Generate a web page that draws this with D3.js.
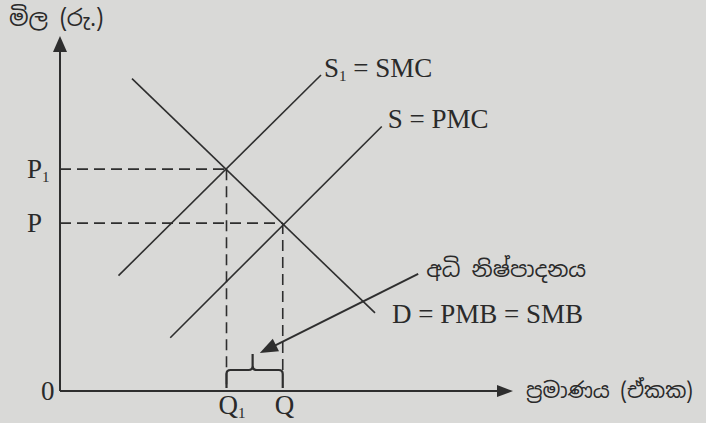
<!DOCTYPE html>
<html>
<head>
<meta charset="utf-8">
<script src="https://cdn.jsdelivr.net/npm/d3@7"></script>
<style>
  html, body { margin: 0; padding: 0; background: #d9d9d7; }
  svg { display: block; }
  text { fill: #2a2a2a; }
</style>
</head>
<body>
<div id="chart"></div>
<script>
// chart size
const width = 706;
const height = 423;

// curve end points (quantity, price) in chart units 0..100
const demandLine = [[16, 88], [70, 22]];     // D = PMB = SMB
const smcLine = [[13, 32.5], [58, 89]];      // S1 = SMC
const pmcLine = [[24.5, 15], [71.5, 74.5]];  // S = PMC

// equilibrium points
const quantities = [37, 49.5];   // Q1, Q
const prices = [62.5, 47.3];     // P1, P
const qLabels = ["Q", "Q"];
const qSubs = ["1", ""];
const pLabels = ["P", "P"];
const pSubs = ["1", ""];

// over production pointer
const pointer = [[79.6, 33], [44.4, 10.7]];

const svg = d3.select("#chart")
  .append("svg")
  .attr("width", width)
  .attr("height", height);

svg.append("rect")
  .attr("width", width)
  .attr("height", height)
  .attr("fill", "#d9d9d7");

// scales
const x = d3.scaleLinear().domain([0, 100]).range([60, 510]);
const y = d3.scaleLinear().domain([0, 100]).range([391, 36]);

const ink = "#2e2e2e";
const line = d3.line().x(d => x(d[0])).y(d => y(d[1]));

// axes
svg.append("line")
  .attr("x1", x(0)).attr("y1", y(0))
  .attr("x2", x(0)).attr("y2", y(100) + 10)
  .attr("stroke", ink).attr("stroke-width", 2);
svg.append("line")
  .attr("x1", x(0)).attr("y1", y(0))
  .attr("x2", x(100) - 8).attr("y2", y(0))
  .attr("stroke", ink).attr("stroke-width", 2);

// axis arrowheads
svg.append("path")
  .attr("d", `M${x(0)},${y(100)} L${x(0) - 7},${y(100) + 16} L${x(0) + 7},${y(100) + 16} Z`)
  .attr("fill", ink);
svg.append("path")
  .attr("d", `M${x(100) + 3},${y(0)} l-16,-6 l0,12 z`)
  .attr("fill", ink);

// dashed guides
quantities.forEach((q, i) => {
  const p = prices[i];
  svg.append("line")
    .attr("x1", x(0)).attr("y1", y(p))
    .attr("x2", x(q)).attr("y2", y(p))
    .attr("stroke", ink).attr("stroke-width", 1.6)
    .attr("stroke-dasharray", "11,6");
  svg.append("line")
    .attr("x1", x(q)).attr("y1", y(p))
    .attr("x2", x(q)).attr("y2", i === 0 ? y(0) - 6 : y(0) - 20)
    .attr("stroke", ink).attr("stroke-width", 1.6)
    .attr("stroke-dasharray", "11,6");
});

// curves
[demandLine, smcLine, pmcLine].forEach(pts => {
  svg.append("path")
    .attr("d", line(pts))
    .attr("fill", "none")
    .attr("stroke", ink)
    .attr("stroke-width", 1.6);
});

// brace under Q1..Q
const bx0 = x(quantities[0]), bx1 = x(quantities[1]);
const bm = (bx0 + bx1) / 2 - 2;
const byTop = y(0) - 21, byBot = y(0) - 3;
svg.append("path")
  .attr("d", `M${bx0},${byBot} L${bx0},${byTop + 4} Q${bx0},${byTop} ${bx0 + 4},${byTop}
    L${bm - 4},${byTop} Q${bm},${byTop} ${bm},${byTop - 4} L${bm},${byTop - 16}
    M${bm},${byTop - 4} Q${bm},${byTop} ${bm + 4},${byTop} L${bx1 - 4},${byTop}
    Q${bx1},${byTop} ${bx1},${byTop + 4} L${bx1},${byBot}`)
  .attr("fill", "none")
  .attr("stroke", ink)
  .attr("stroke-width", 2.2);

// pointer arrow
const [pa, pb] = pointer;
const ang = Math.atan2(y(pb[1]) - y(pa[1]), x(pb[0]) - x(pa[0]));
svg.append("line")
  .attr("x1", x(pa[0])).attr("y1", y(pa[1]))
  .attr("x2", x(pb[0]) - 10 * Math.cos(ang)).attr("y2", y(pb[1]) - 10 * Math.sin(ang))
  .attr("stroke", ink).attr("stroke-width", 2);
svg.append("path")
  .attr("d", `M0,0 L-18,-7 L-18,7 Z`)
  .attr("transform", `translate(${x(pb[0])},${y(pb[1])}) rotate(${ang * 180 / Math.PI})`)
  .attr("fill", ink);

// text helpers
const serif = "'Liberation Serif', 'Times New Roman', Times, 'DejaVu Serif', serif";
function label(tx, ty, main, sub, anchor) {
  const t = svg.append("text")
    .attr("x", tx).attr("y", ty)
    .style("font-family", serif)
    .attr("font-size", 27)
    .attr("text-anchor", anchor || "start");
  t.append("tspan").text(main);
  if (sub) t.append("tspan").attr("font-size", 15).attr("dy", 4).text(sub);
  return t;
}

// price labels
prices.forEach((p, i) => {
  label(27, y(p) + 9, pLabels[i], pSubs[i]);
});
// quantity labels
quantities.forEach((q, i) => {
  label(x(q) - 8, y(0) + 23, qLabels[i], qSubs[i]);
});
label(41, y(0) + 9, "0");

// curve labels
label(x(smcLine[1][0]) + 3, y(smcLine[1][1]) + 2, "S", "1").append("tspan").attr("dy", -4).text(" = SMC");
label(x(pmcLine[1][0]) + 6, y(pmcLine[1][1]) + 1, "S = PMC");
label(x(demandLine[1][0]) + 17, y(demandLine[1][1]) + 10, "D = PMB = SMB");

// Sinhala labels
const sans = "'Noto Sans Sinhala', 'Noto Sans', sans-serif";
svg.append("text").attr("x", 9).attr("y", 26)
  .attr("font-family", sans).attr("font-size", 23).text("මිල (රු.)");
svg.append("text").attr("x", x(pointer[0][0]) + 8).attr("y", y(pointer[0][1]) + 3)
  .attr("font-family", sans).attr("font-size", 22).text("අධි නිෂ්පාදනය");
svg.append("text").attr("x", 526).attr("y", y(0) + 7)
  .attr("font-family", sans).attr("font-size", 21).text("ප්‍රමාණය (ඒකක)");
</script>
</body>
</html>
